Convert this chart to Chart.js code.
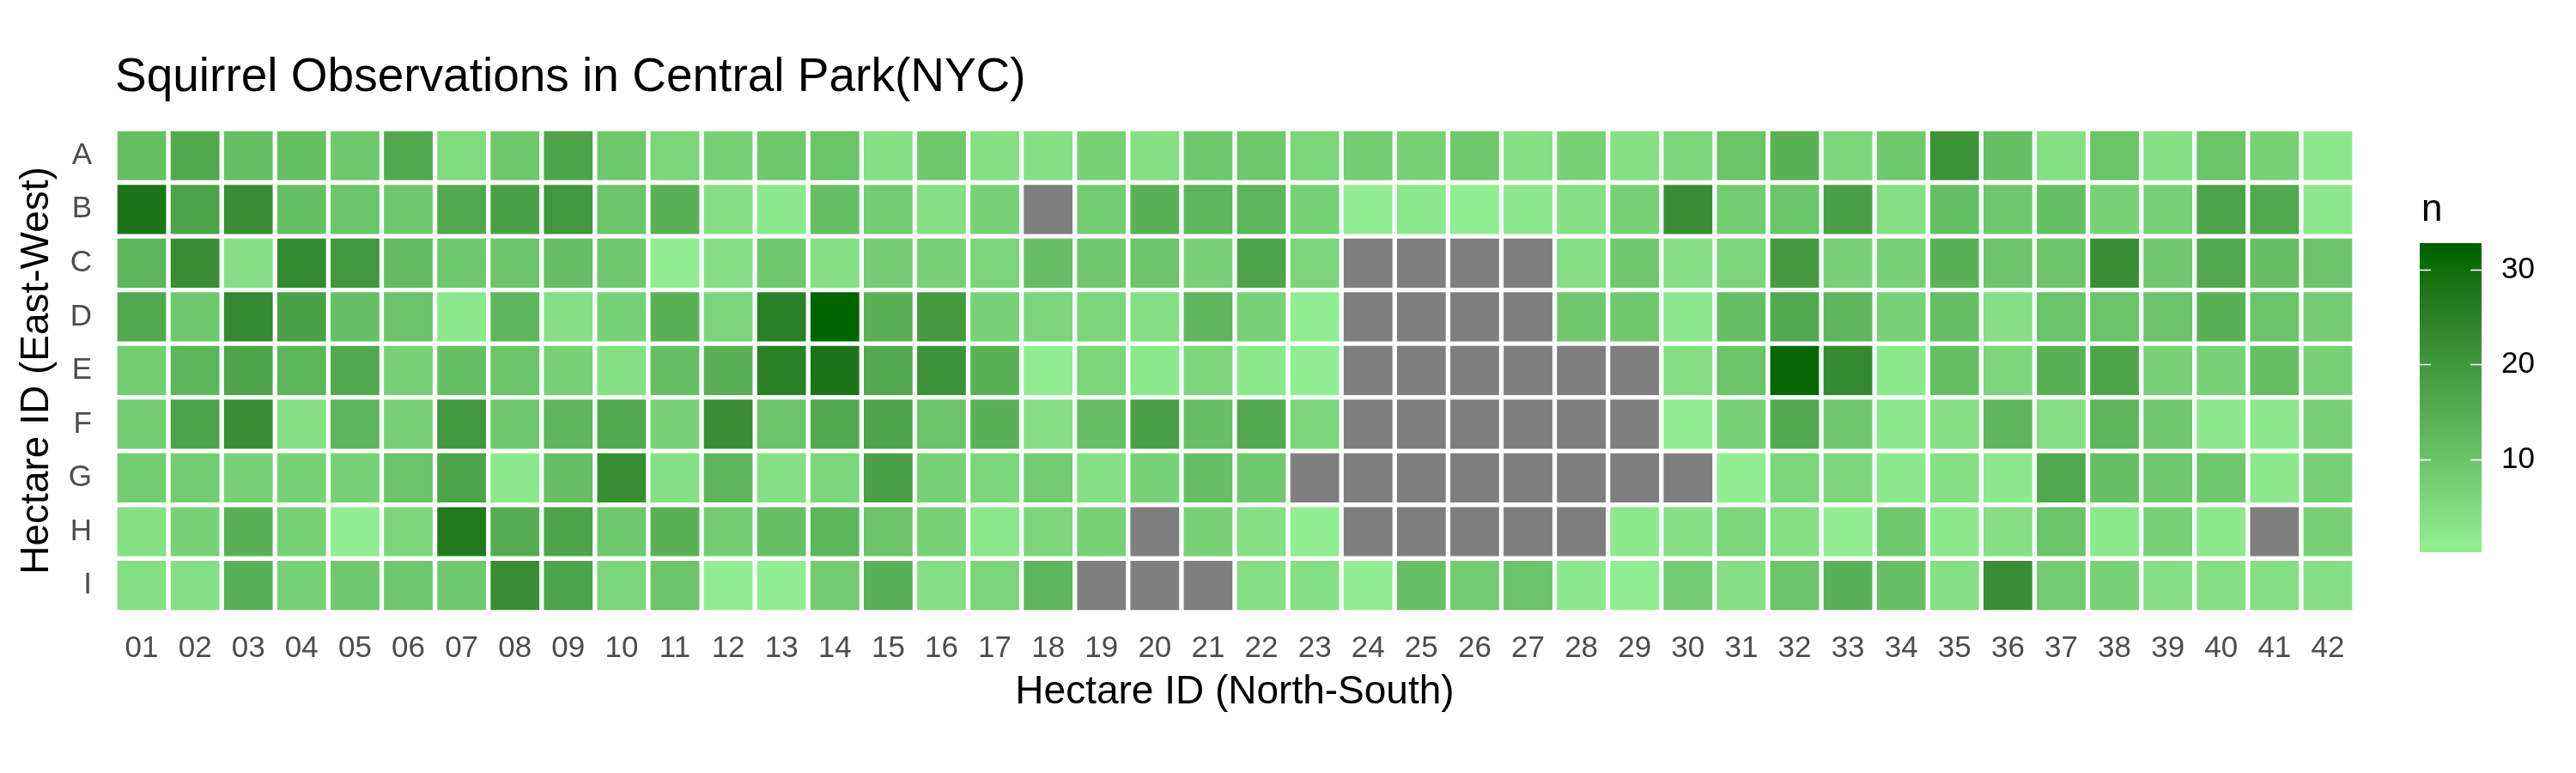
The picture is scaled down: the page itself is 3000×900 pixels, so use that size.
<!DOCTYPE html>
<html>
<head>
<meta charset="utf-8">
<title>Squirrel Observations in Central Park(NYC)</title>
<script src="https://cdn.jsdelivr.net/npm/chart.js@4.4.1/dist/chart.umd.min.js"></script>
<style>
  html, body { margin: 0; padding: 0; background: #fff; }
  #wrap { width: 3000px; height: 900px; }
</style>
</head>
<body>
<div id="wrap"><canvas id="heat" width="3000" height="900"></canvas></div>
<script>
// hectare grid: columns 01..42 (north-south), rows A..I (east-west)
const hectareCols = ['01','02','03','04','05','06','07','08','09','10','11','12','13','14',
  '15','16','17','18','19','20','21','22','23','24','25','26','27','28',
  '29','30','31','32','33','34','35','36','37','38','39','40','41','42'];
const hectareRows = ['A','B','C','D','E','F','G','H','I'];

// squirrel counts per hectare, null = no observations
const countsA = [11,16,11,11,9,16,5,9,17,9,6,7,9,10,4,9,4,4,7,4,9,9,6,8,7,9,4,7,4,6,10,14,6,9,21,11,4,10,4,10,7,2];
const countsB = [28,17,22,11,10,9,16,18,20,10,14,4,2,11,8,4,7,null,8,14,13,13,7,1,2,1,2,4,7,22,8,10,18,4,11,9,11,7,7,17,16,2];
const countsC = [13,22,4,23,20,12,9,10,11,9,1,4,9,4,8,7,6,11,9,10,7,17,6,null,null,null,null,4,9,4,6,19,7,7,14,10,10,22,9,16,11,10];
const countsD = [16,9,23,18,11,10,2,13,4,7,14,6,25,32,14,19,7,6,6,4,13,7,1,null,null,null,null,9,9,2,11,16,13,7,11,4,10,10,10,14,10,8];
const countsE = [8,13,17,13,16,7,11,10,7,4,11,14,25,28,16,21,14,1,6,2,6,2,1,null,null,null,null,null,null,4,10,31,23,2,11,6,14,17,7,7,11,7];
const countsF = [8,17,22,4,13,7,20,9,13,16,7,22,10,16,17,10,14,4,11,18,11,16,6,null,null,null,null,null,null,1,7,16,9,2,4,13,4,13,9,2,2,7];
const countsG = [8,8,7,7,7,10,17,2,11,22,4,13,4,6,18,7,6,8,4,7,11,9,null,null,null,null,null,null,null,null,1,6,6,2,4,2,16,11,9,9,2,7];
const countsH = [4,7,14,7,1,6,27,15,17,9,14,8,11,13,10,7,2,6,7,null,7,4,1,null,null,null,null,null,2,4,6,4,1,9,2,4,10,2,7,2,null,7];
const countsI = [4,4,14,7,9,9,9,22,17,6,10,1,1,8,14,4,6,13,null,null,null,4,4,1,11,8,10,2,1,8,4,10,14,11,4,22,8,7,4,4,4,4];

const legendTicks = [10, 20, 30];

const grid = [countsA, countsB, countsC, countsD, countsE, countsF, countsG, countsH, countsI];
const observed = grid.flat().filter(v => v !== null);
const nMin = Math.min(...observed);
const nMax = Math.max(...observed);

// ggplot-style gradient (lightgreen -> darkgreen, interpolated in Lab)
function hexToLab(hex) {
  const c = [1, 3, 5].map(i => parseInt(hex.slice(i, i + 2), 16) / 255)
    .map(u => u <= 0.04045 ? u / 12.92 : Math.pow((u + 0.055) / 1.055, 2.4));
  const X = (0.4124 * c[0] + 0.3576 * c[1] + 0.1805 * c[2]) / 0.95047;
  const Y = 0.2126 * c[0] + 0.7152 * c[1] + 0.0722 * c[2];
  const Z = (0.0193 * c[0] + 0.1192 * c[1] + 0.9505 * c[2]) / 1.08883;
  const f = t => t > 216 / 24389 ? Math.cbrt(t) : (24389 / 27 * t + 16) / 116;
  return [116 * f(Y) - 16, 500 * (f(X) - f(Y)), 200 * (f(Y) - f(Z))];
}
function labToRgb(L, a, b) {
  const fy = (L + 16) / 116, fx = fy + a / 500, fz = fy - b / 200;
  const inv = t => t * t * t > 216 / 24389 ? t * t * t : (116 * t - 16) / (24389 / 27);
  const X = inv(fx) * 0.95047, Y = inv(fy), Z = inv(fz) * 1.08883;
  const lin = [3.2406 * X - 1.5372 * Y - 0.4986 * Z,
               -0.9689 * X + 1.8758 * Y + 0.0415 * Z,
               0.0557 * X - 0.2040 * Y + 1.0570 * Z];
  const s = lin.map(u => u <= 0.0031308 ? 12.92 * u : 1.055 * Math.pow(u, 1 / 2.4) - 0.055)
    .map(u => Math.round(Math.min(1, Math.max(0, u)) * 255));
  return `rgb(${s[0]},${s[1]},${s[2]})`;
}
const LOW = hexToLab('#90EE90');
const HIGH = hexToLab('#006400');
function colorAt(t) {
  t = Math.min(1, Math.max(0, t));
  return labToRgb(LOW[0] + (HIGH[0] - LOW[0]) * t, LOW[1] + (HIGH[1] - LOW[1]) * t, LOW[2] + (HIGH[2] - LOW[2]) * t);
}
function fillFor(v) {
  if (v === null) return '#7F7F7F';
  return colorAt((v - nMin) / (nMax - nMin));
}

const FONT = "'Liberation Sans', Arial, sans-serif";
Chart.defaults.font.family = FONT;

// continuous colour bar on the right, like ggplot's guide_colourbar
const colorbar = {
  id: 'colorbar',
  afterDraw(chart) {
    const ctx = chart.ctx;
    const x = 2818, w = 72, top = 283, h = 360, nbin = 20;
    const inset = h / nbin / 2;
    const yOf = v => top + h - inset - (v - nMin) / (nMax - nMin) * (h - 2 * inset);

    ctx.save();
    const g = ctx.createLinearGradient(0, top + h, 0, top);
    g.addColorStop(0, colorAt(0));
    for (let k = 0; k < nbin; k++) g.addColorStop((k + 0.5) / nbin, colorAt(k / (nbin - 1)));
    g.addColorStop(1, colorAt(1));
    ctx.fillStyle = g;
    ctx.fillRect(x, top, w, h);

    ctx.strokeStyle = '#ffffff';
    ctx.lineWidth = 1.5;
    ctx.fillStyle = '#000000';
    ctx.font = `35px ${FONT}`;
    ctx.textBaseline = 'middle';
    ctx.textAlign = 'left';
    legendTicks.forEach(v => {
      const y = Math.round(yOf(v)) + 0.5;
      ctx.beginPath();
      ctx.moveTo(x, y); ctx.lineTo(x + 13, y);
      ctx.moveTo(x + w - 13, y); ctx.lineTo(x + w, y);
      ctx.stroke();
      ctx.fillText(String(v), 2913, y);
    });

    ctx.font = `44px ${FONT}`;
    ctx.textBaseline = 'alphabetic';
    ctx.fillText('n', 2820, 257);
    ctx.restore();
  }
};

const datasets = hectareRows.map((row, i) => ({
  label: row,
  data: hectareCols.map(() => [i - 0.5, i + 0.5]),
  counts: grid[i],
  backgroundColor: grid[i].map(fillFor),
  borderColor: '#ffffff',
  borderWidth: 3,
  borderSkipped: false,
  barPercentage: 1,
  categoryPercentage: 1
}));

new Chart(document.getElementById('heat'), {
  type: 'bar',
  data: { labels: hectareCols, datasets: datasets },
  options: {
    responsive: false,
    animation: false,
    devicePixelRatio: 1,
    layout: { padding: { left: 0, right: 258, top: 0, bottom: 66 } },
    plugins: {
      legend: { display: false },
      title: {
        display: true,
        text: 'Squirrel Observations in Central Park(NYC)',
        align: 'start',
        fullSize: false,
        color: '#000000',
        font: { size: 55, weight: 'normal' },
        padding: { top: 58, bottom: 26 }
      },
      tooltip: {
        callbacks: {
          title: items => `Hectare ${items[0].dataset.label}${items[0].label}`,
          label: item => `n: ${item.dataset.counts[item.dataIndex] ?? 'NA'}`
        }
      }
    },
    scales: {
      x: {
        stacked: true,
        grid: { display: false, drawTicks: false },
        border: { display: false },
        ticks: { color: '#4D4D4D', font: { size: 35 }, padding: 22, autoSkip: false, maxRotation: 0 },
        title: {
          display: true, text: 'Hectare ID (North-South)', color: '#000000',
          font: { size: 46 }, padding: { top: -20, bottom: 0 }
        }
      },
      y: {
        type: 'linear',
        stacked: false,
        reverse: true,
        min: -0.5,
        max: hectareRows.length - 0.5,
        grid: { display: false, drawTicks: false },
        border: { display: false },
        afterBuildTicks: s => { s.ticks = hectareRows.map((_, i) => ({ value: i })); },
        afterFit: s => { s.width = 134; },
        ticks: { color: '#4D4D4D', font: { size: 35 }, padding: 27, callback: v => hectareRows[v] },
        title: {
          display: true, text: 'Hectare ID (East-West)', color: '#000000',
          font: { size: 46 }, padding: { top: 16, bottom: 0 }
        }
      }
    }
  },
  plugins: [colorbar]
});
</script>
</body>
</html>
